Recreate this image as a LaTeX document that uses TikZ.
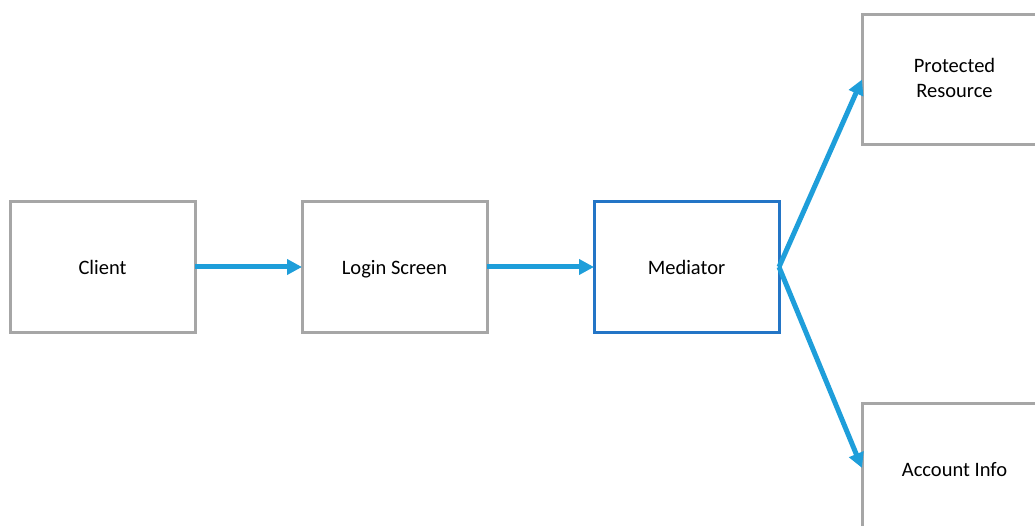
\documentclass[tikz,border=0pt]{standalone}
\usepackage{fontspec}
\setmainfont{Carlito}
\usetikzlibrary{arrows.meta}
\definecolor{boxgray}{RGB}{166,166,166}
\definecolor{medblue}{RGB}{35,117,198}
\definecolor{arrblue}{RGB}{30,158,218}
\newcommand\boxstrut{\rule[-3pt]{0pt}{22pt}}
\tikzset{
  box/.style={draw=boxgray, line width=3pt, rectangle, minimum width=185pt, minimum height=130pt, align=center, font=\fontsize{20.5}{25.5}\selectfont, inner sep=0pt, outer sep=0pt, fill=white, execute at begin node=\boxstrut, execute at end node=\boxstrut},
  medbox/.style={box, draw=medblue},
  flow/.style={draw=arrblue, line width=5pt, -{Triangle[length=15pt,width=15pt]}}
}
\begin{document}
\begin{tikzpicture}[x=1pt,y=-1pt]
\useasboundingbox (0,0) rectangle (1035,526);
\clip (0,0) rectangle (1035,526);
\node[box] (client) at (102.5,267) {Client};
\node[box] (login) at (394.5,267) {Login Screen};
\node[medbox] (med) at (686.5,267) {Mediator};
\node[box] (prot) at (954.5,79.5) {Protected\\Resource};
\node[box] (acct) at (954.5,468) {Account Info};
\draw[flow] (client.east) -- (login.west);
\draw[flow] (login.east) -- (med.west);
\draw[flow] (med.east) -- (prot.west);
\draw[flow] (med.east) -- (acct.west);
\end{tikzpicture}
\end{document}
